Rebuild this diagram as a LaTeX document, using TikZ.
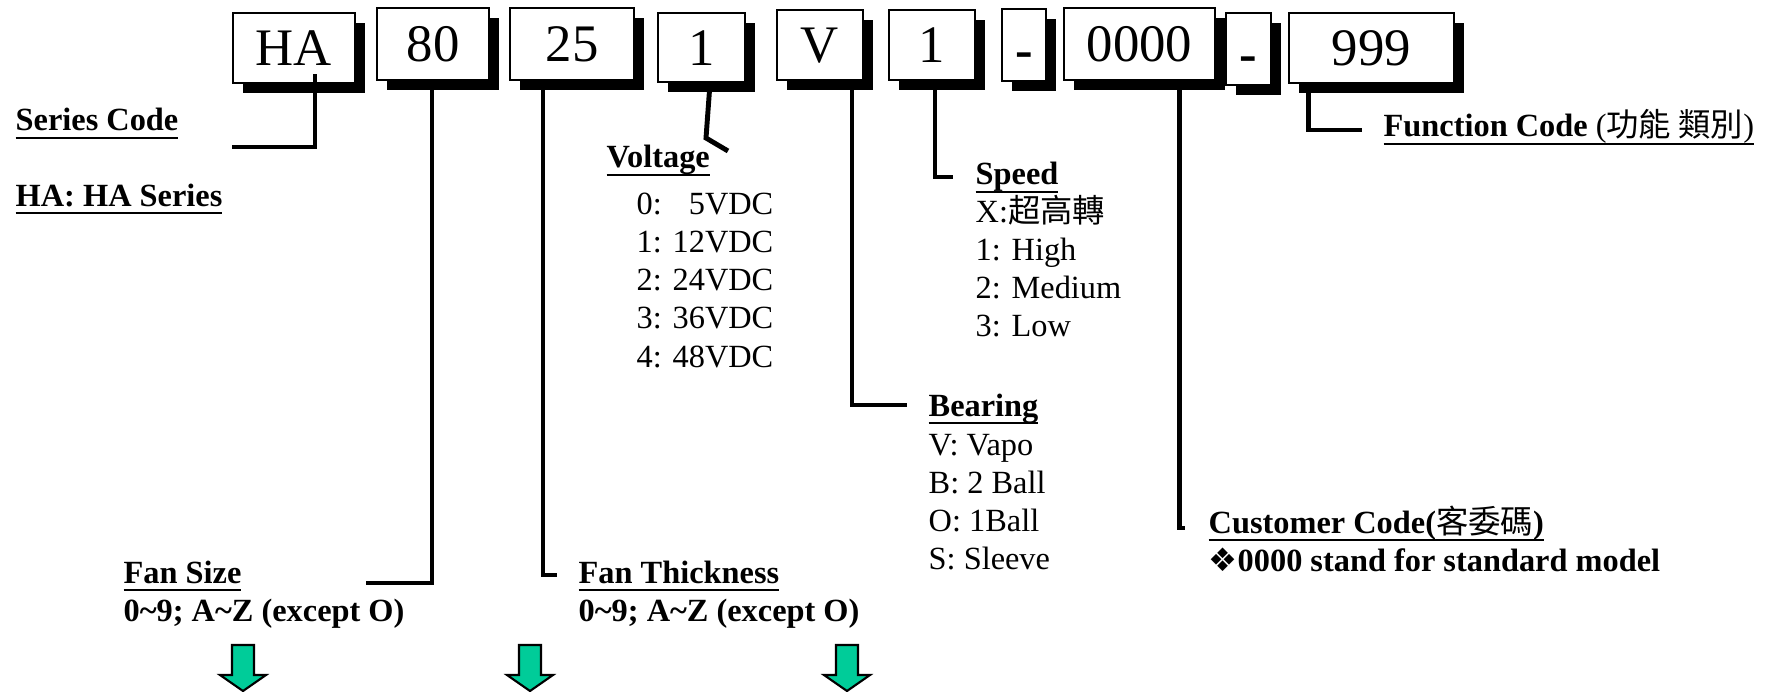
\documentclass[tikz,border=0pt]{standalone}
\usepackage{fontspec}
\setmainfont{Liberation Serif}
\newfontfamily\cjk{Noto Sans CJK TC}
\newfontfamily\symfont{DejaVu Sans}
\usetikzlibrary{shadows, calc}

\definecolor{arrowgreen}{RGB}{0,204,153}

% underline at a fixed depth, descenders or not
\newcommand{\ulined}[1]{\setbox0\hbox{#1}\rlap{\rule[-2.3pt]{\wd0}{0.7pt}}\box0}
\newcommand{\codedash}{\raisebox{-1.5pt}{\textbf{-}}}

\begin{document}
\begin{tikzpicture}[x=0.01cm, y=-0.01cm,
    codebox/.style={draw, fill=white, line width=0.8pt, inner sep=0pt,
        font=\fontsize{15}{18}\selectfont, text height=10pt, text depth=0pt,
        drop shadow={shadow xshift=0.1cm, shadow yshift=-0.1cm, fill=black, opacity=1}},
    leader/.style={line width=1.4pt},
    item/.style={anchor=base west, inner sep=0pt, font=\fontsize{9.2}{11}\selectfont},
    heading/.style={item, font=\fontsize{9.2}{11}\selectfont\bfseries},
    fanarrow/.style={fill=arrowgreen, draw=black, line width=0.6pt}]

    \useasboundingbox (0,0) rectangle (1773,691);

    % --- 1. Code boxes ---
    \node [codebox, minimum width=1.22cm, minimum height=0.70cm] (ha)    at (294,48)    {HA};
    \node [codebox, minimum width=1.12cm, minimum height=0.72cm] (size)  at (433,44)    {80};
    \node [codebox, minimum width=1.24cm, minimum height=0.72cm] (thick) at (572,44)    {25};
    \node [codebox, minimum width=0.87cm, minimum height=0.69cm] (volt)  at (701.5,47.5) {1};
    \node [codebox, minimum width=0.86cm, minimum height=0.70cm] (bear)  at (820,45)    {V};
    \node [codebox, minimum width=0.86cm, minimum height=0.70cm] (speed) at (932,45)    {1};
    \node [codebox, minimum width=0.44cm, minimum height=0.72cm] (dashA) at (1024,45)   {\codedash};
    \node [codebox, minimum width=1.51cm, minimum height=0.72cm] (cust)  at (1139.5,44) {0000};
    \node [codebox, minimum width=0.45cm, minimum height=0.72cm] (dashB) at (1248.5,49) {\codedash};
    \node [codebox, minimum width=1.65cm, minimum height=0.70cm] (func)  at (1371.5,48) {999};

    % --- 2. Leader ends ---
    \coordinate (seriesend) at (232,147);
    \coordinate (sizeend)   at (366,583);
    \coordinate (thickend)  at (557,575);
    \coordinate (voltbend)  at (706,138);
    \coordinate (voltend)   at (728,151);
    \coordinate (bearend)   at (907,405);
    \coordinate (speedend)  at (953,177);
    \coordinate (custend)   at (1185,528);
    \coordinate (funcend)   at (1362,130);

    % --- 3. Leaders ---
    \draw [leader] ([xshift=0.21cm, yshift=0.1cm]ha.south) |- (seriesend);
    \draw [leader] ([xshift=-0.01cm]size.south) |- (sizeend);
    \draw [leader] ([xshift=-0.29cm]thick.south) |- (thickend);
    \draw [leader] ([xshift=0.085cm]volt.south) -- (voltbend) -- (voltend);
    \draw [leader] ([xshift=0.32cm]bear.south) |- (bearend);
    \draw [leader] ([xshift=0.03cm]speed.south) |- (speedend);
    \draw [leader] ([xshift=0.40cm]cust.south) |- (custend);
    \draw [leader] ([xshift=-0.63cm]func.south) |- (funcend);

    % --- 4. Series code ---
    \node [heading] (serieshead) at (15,131) {\ulined{Series Code}};
    \node [heading] (seriesval)  at (15,206) {\ulined{HA: HA Series}};

    % --- 5. Fan size / thickness ---
    \node [heading] (sizehead)  at (123,583) {\ulined{Fan Size}};
    \node [heading] (sizeval)   at (123,621) {0\textasciitilde 9; A\textasciitilde Z (except O)};
    \node [heading] (thickhead) at (578,583) {\ulined{Fan Thickness}};
    \node [heading] (thickval)  at (578,621) {0\textasciitilde 9; A\textasciitilde Z (except O)};

    % --- 6. Voltage ---
    \node [heading] (volthead) at (606,168) {\ulined{Voltage}};
    \foreach \txt [count=\i] in {{0: \hphantom{1}5VDC}, {1: 12VDC}, {2: 24VDC}, {3: 36VDC}, {4: 48VDC}} {
        \node [item] (volt\i) at (636, 176+38.2*\i) {\txt};
    }

    % --- 7. Speed ---
    \node [heading] (speedhead) at (975,185) {\ulined{Speed}};
    \foreach \txt [count=\i] in {{X:{\cjk 超高轉}}, {1: High}, {2: Medium}, {3: Low}} {
        \node [item] (speed\i) at (975, 184+38*\i) {\txt};
    }

    % --- 8. Bearing ---
    \node [heading] (bearhead) at (928,416) {\ulined{Bearing}};
    \foreach \txt [count=\i] in {{V: Vapo}, {B: 2 Ball}, {O: 1Ball}, {S: Sleeve}} {
        \node [item] (bear\i) at (928, 417+38*\i) {\txt};
    }

    % --- 9. Customer code ---
    \node [heading] (custhead) at (1208,533) {\ulined{Customer Code({\cjk\mdseries 客委碼})}};
    \node [heading] (custval)  at (1208,571) {{\symfont\mdseries ❖}0000 stand for standard model};

    % --- 10. Function code ---
    \node [item] (funchead) at (1383,137) {\ulined{\textbf{Function Code} ({\cjk 功能 類別})}};

    % --- 11. Green arrows ---
    \foreach \ax in {243, 530, 847} {
        \filldraw [fanarrow] (\ax-11,645) -- (\ax+11,645) -- (\ax+11,675) -- (\ax+23,675)
            -- (\ax,691) -- (\ax-23,675) -- (\ax-11,675) -- cycle;
    }

\end{tikzpicture}
\end{document}
